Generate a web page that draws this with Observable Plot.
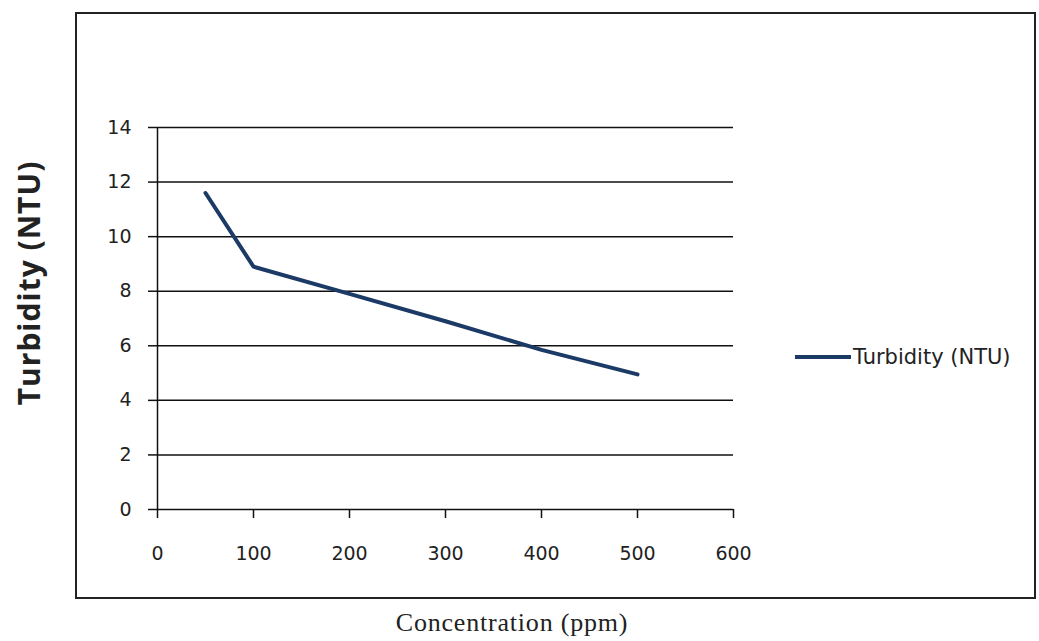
<!DOCTYPE html>
<html>
<head>
<meta charset="utf-8">
<script src="https://cdn.jsdelivr.net/npm/d3@7"></script>
<script src="https://cdn.jsdelivr.net/npm/@observablehq/plot@0.6"></script>
<style>
  body { margin: 0; background: #fff; }
  #wrap { position: relative; width: 1039px; height: 641px; overflow: hidden; }
  #border { position: absolute; left: 75px; top: 12px; width: 961px; height: 587px; border: 2px solid #222; box-sizing: border-box; pointer-events: none; }
  #legend { position: absolute; left: 795px; top: 344px; display: flex; align-items: center; font-family: "DejaVu Sans", sans-serif; font-size: 21px; line-height: 26px; color: #222; }
  #legend .sw { width: 56px; height: 4px; background: #1c3a66; margin-right: 2px; }
  #ytitle { position: absolute; left: 29px; top: 283px; transform: translate(-50%, -50%) rotate(-90deg); white-space: nowrap;
            font-family: "Open Sans", sans-serif; font-weight: bold; font-size: 30px; letter-spacing: 1px; color: #222; line-height: 1; }
  #xtitle { position: absolute; left: 512px; top: 623px; transform: translate(-50%, -50%); white-space: nowrap;
            font-family: "Liberation Serif", serif; font-size: 26px; letter-spacing: 0.8px; color: #222; line-height: 1; }
</style>
</head>
<body>
<div id="wrap">
  <div id="chart"></div>
  <div id="border"></div>
  <div id="legend"><span class="sw"></span><span id="legendText"></span></div>
  <div id="ytitle"></div>
  <div id="xtitle"></div>
</div>
<script>
const concentration = [50, 100, 200, 300, 400, 500];
const turbidity = [11.6, 8.9, 7.9, 6.9, 5.85, 4.95];
const xTicks = [0, 100, 200, 300, 400, 500, 600];
const yTicks = [0, 2, 4, 6, 8, 10, 12, 14];
const seriesName = "Turbidity (NTU)";
const xTitle = "Concentration (ppm)";
const yTitle = "Turbidity (NTU)";

const data = concentration.map((c, i) => ({c, t: turbidity[i]}));

const chart = Plot.plot({
  width: 1039,
  height: 641,
  marginLeft: 157,
  marginRight: 306,
  marginTop: 127,
  marginBottom: 132,
  style: { fontFamily: "DejaVu Sans, sans-serif", fontSize: "19px", color: "#222", background: "transparent" },
  x: { domain: [0, 600] },
  y: { domain: [0, 14] },
  marks: [
    Plot.gridY(yTicks, { stroke: "#111", strokeOpacity: 1, strokeWidth: 1.5 }),
    Plot.ruleX([0], { stroke: "#111", strokeWidth: 1.5 }),
    Plot.axisY({ ticks: yTicks, tickSize: 9, tickPadding: 17, stroke: "#111", strokeWidth: 1.5, label: null }),
    Plot.axisX({ ticks: xTicks, tickSize: 9, tickPadding: 28, stroke: "#111", strokeWidth: 1.5, label: null }),
    Plot.line(data, { x: "c", y: "t", stroke: "#1c3a66", strokeWidth: 4, strokeLinejoin: "round" })
  ]
});
document.getElementById("chart").appendChild(chart);
document.getElementById("legendText").textContent = seriesName;
document.getElementById("ytitle").textContent = yTitle;
document.getElementById("xtitle").textContent = xTitle;
</script>
</body>
</html>
